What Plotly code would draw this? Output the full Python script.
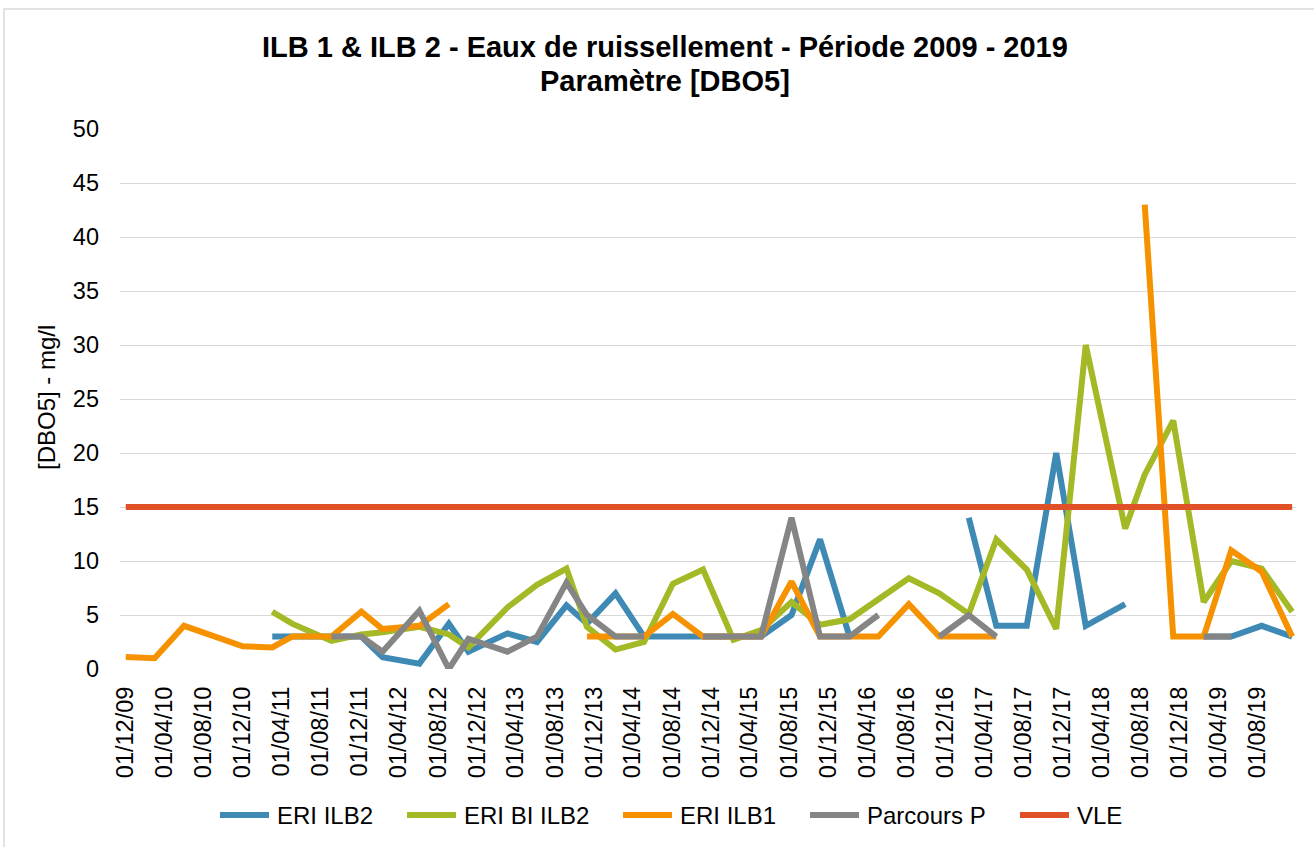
import plotly.graph_objects as go

dates = [
    "2009-12-01", "2010-03-01", "2010-06-01", "2010-09-05", "2010-12-01",
    "2011-03-03", "2011-05-04", "2011-09-04", "2011-12-06", "2012-02-10",
    "2012-06-04", "2012-09-04", "2012-11-04", "2013-03-06", "2013-06-06",
    "2013-09-06", "2013-11-09", "2014-02-06", "2014-05-06", "2014-08-04",
    "2014-11-06", "2015-02-09", "2015-05-06", "2015-08-09", "2015-11-06",
    "2016-02-06", "2016-05-06", "2016-08-09", "2016-11-12", "2017-02-12",
    "2017-05-09", "2017-08-12", "2017-11-12", "2018-02-12", "2018-06-15",
    "2018-08-15", "2018-11-12", "2019-02-15", "2019-05-12", "2019-08-15",
    "2019-11-18",
]

eri_ilb2 = [
    None, None, None, None, None,
    3.0, 3.0, 3.0, 3.0, 1.1,
    0.5, 4.2, 1.6, 3.3, 2.5,
    5.9, 4.2, 7.0, 3.0, 3.0,
    3.0, 3.0, 3.0, 5.0, 12.0,
    3.0, None, None, None, 14.0,
    4.0, 4.0, 20.0, 4.0, 6.0,
    None, None, 3.0, 3.0, 4.0,
    3.0,
]

eri_bi_ilb2 = [
    None, None, None, None, None,
    5.3, 4.2, 2.6, 3.2, 3.4,
    3.9, 3.2, 2.0, 5.7, 7.8,
    9.3, 3.9, 1.8, 2.5, 7.9,
    9.2, 2.7, 3.6, 6.2, 4.1,
    4.6, 6.4, 8.4, 7.0, 5.1,
    12.0, 9.2, 3.7, 30.0, 13.0,
    18.0, 23.0, 6.2, 10.0, 9.3,
    5.3,
]

eri_ilb1 = [
    1.1, 1.0, 4.0, 3.0, 2.1,
    2.0, 3.0, 3.0, 5.3, 3.7,
    4.0, 6.0, None, None, None,
    None, 3.0, 3.0, 3.0, 5.1,
    3.0, 3.0, 3.0, 8.1, 3.0,
    3.0, 3.0, 6.0, 3.0, 3.0,
    3.0, None, None, None, None,
    43.0, 3.0, 3.0, 11.0, 9.0,
    3.0,
]

parcours_p = [
    None, None, None, None, None,
    None, None, 3.0, 3.0, 1.6,
    5.4, 0.0, 2.8, 1.6, 3.0,
    8.0, 5.0, 3.0, 3.0, None,
    3.0, 3.0, 3.0, 14.0, 3.0,
    3.0, 5.0, None, 3.0, 5.0,
    3.0, None, None, None, None,
    None, None, 3.0, 3.0, None,
    None,
]

vle = [15] * len(dates)

series_names = ["ERI ILB2", "ERI BI ILB2", "ERI ILB1", "Parcours P", "VLE"]
series_values = [eri_ilb2, eri_bi_ilb2, eri_ilb1, parcours_p, vle]
series_colors = ["#3F8AB5", "#A5B826", "#F69200", "#858585", "#E05127"]

y_ticks = [0, 5, 10, 15, 20, 25, 30, 35, 40, 45, 50]

title_lines = ["ILB 1 & ILB 2 - Eaux de ruissellement - Période 2009 - 2019",
               "Paramètre [DBO5]"]
y_title = "[DBO5] - mg/l"

FONT = "Liberation Sans, Arial, sans-serif"
W, H = 1314, 847
L, R, T, B = 120, 18, 129, 178
PW, PH = W - L - R, H - T - B


def px_x(p):
    return (p - L) / PW


def px_y(p):
    return (H - B - p) / PH


fig = go.Figure()
for name, vals, col in zip(series_names, series_values, series_colors):
    fig.add_trace(go.Scatter(
        x=dates, y=vals, name=name, mode="lines",
        line=dict(color=col, width=6),
        connectgaps=False, showlegend=False,
    ))

annotations = [
    dict(text="<b>%s</b>" % title_lines[0], x=px_x(665), y=px_y(47),
         font=dict(family=FONT, size=29, color="#000000")),
    dict(text="<b>%s</b>" % title_lines[1], x=px_x(665), y=px_y(81),
         font=dict(family=FONT, size=29, color="#000000")),
    dict(text=y_title, textangle=-90, x=px_x(46), y=px_y(398),
         font=dict(family=FONT, size=24, color="#000000")),
]
for a in annotations:
    a.update(showarrow=False, xref="paper", yref="paper",
             xanchor="center", yanchor="middle")

shapes = [dict(
    type="rect", xref="paper", yref="paper",
    x0=px_x(4), x1=px_x(1330), y0=px_y(870), y1=px_y(9),
    line=dict(color="#D9D9D9", width=1.5), fillcolor="rgba(0,0,0,0)",
    layer="below",
)]

# custom legend (symbol line + label) at the bottom
legend_sym_x = [217, 404, 620, 807, 1017]
legend_y = 815
for name, col, sx in zip(series_names, series_colors, legend_sym_x):
    shapes.append(dict(
        type="line", xref="paper", yref="paper",
        x0=px_x(sx + 3), x1=px_x(sx + 52), y0=px_y(legend_y), y1=px_y(legend_y),
        line=dict(color=col, width=6),
    ))
    annotations.append(dict(
        text=name, showarrow=False, xref="paper", yref="paper",
        x=px_x(sx + 58), y=px_y(legend_y), xanchor="left", yanchor="middle",
        font=dict(family=FONT, size=24, color="#000000"),
    ))

fig.update_layout(
    width=W, height=H,
    paper_bgcolor="white", plot_bgcolor="white",
    margin=dict(l=L, r=R, t=T, b=B),
    font=dict(family=FONT, size=24, color="#000000"),
    showlegend=False,
    xaxis=dict(
        type="date",
        range=["2009-11-13", "2019-11-30"],
        tick0="2009-12-01", dtick="M4", tickformat="%d/%m/%y",
        tickangle=-90, showgrid=False, zeroline=False, showline=False,
        ticks="", tickfont=dict(family=FONT, size=23.5),
        ticklabelstandoff=12,
    ),
    yaxis=dict(
        range=[0, 50], tickvals=y_ticks, showgrid=True,
        gridcolor="#D9D9D9", gridwidth=1.3, zeroline=False, showline=False,
        ticks="", tickfont=dict(family=FONT, size=23.5),
        ticklabelstandoff=20,
    ),
    annotations=annotations,
    shapes=shapes,
)

fig.write_html("out.html",
               config={"displayModeBar": False},
               post_script="document.body.style.margin='0';"
                           "document.body.style.overflow='hidden';")
